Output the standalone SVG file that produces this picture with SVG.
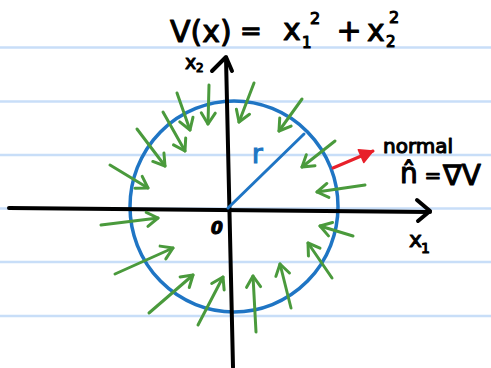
<svg xmlns="http://www.w3.org/2000/svg" width="491" height="368" viewBox="0 0 491 368">
<style>
.rule{stroke:#c8def8;stroke-width:2.5}
.ax{stroke:#000;stroke-width:4;fill:none;stroke-linecap:round;stroke-linejoin:round}
.g{stroke:#4a9a3c;stroke-width:3;fill:none;stroke-linecap:round}
.t{font-family:"DejaVu Sans",sans-serif;fill:#000;stroke:#000;stroke-width:1.1;stroke-linejoin:round}
</style>
<defs>
<marker id="ah" markerUnits="userSpaceOnUse" markerWidth="30" markerHeight="30" viewBox="-15 -15 30 30" refX="0" refY="0" orient="auto" overflow="visible">
<path d="M-11,-7 L0,0 L-11,7" fill="none" stroke="#4a9a3c" stroke-width="3" stroke-linecap="round" stroke-linejoin="round"/>
</marker>
<marker id="rh" markerUnits="userSpaceOnUse" markerWidth="30" markerHeight="30" viewBox="-15 -15 30 30" refX="0" refY="0" orient="auto" overflow="visible">
<path d="M-13,-7 L0,0 L-13,7 Z" fill="#e8202a" stroke="#e8202a" stroke-width="1.5" stroke-linejoin="round"/>
</marker>
</defs>
<rect width="491" height="368" fill="#fff"/>
<g id="ruled-lines">
<line class="rule" x1="0" y1="47.5" x2="491" y2="47.5"/>
<line class="rule" x1="0" y1="101.5" x2="491" y2="101.5"/>
<line class="rule" x1="0" y1="155" x2="491" y2="155"/>
<line class="rule" x1="0" y1="208.5" x2="491" y2="208.5"/>
<line class="rule" x1="0" y1="262" x2="491" y2="262"/>
<line class="rule" x1="0" y1="316" x2="491" y2="316"/>
</g>
<g id="title">
<text class="t" x="170" y="42" font-size="30">V(x)</text>
<text class="t" x="251" y="40" font-size="26" text-anchor="middle">=</text>
<text class="t" x="283" y="40" font-size="30">x</text>
<text class="t" x="302" y="48" font-size="15">1</text>
<text class="t" x="310" y="24" font-size="16">2</text>
<text class="t" x="349" y="41" font-size="30" text-anchor="middle">+</text>
<text class="t" x="367" y="41" font-size="30">x</text>
<text class="t" x="386" y="47" font-size="15">2</text>
<text class="t" x="389" y="23" font-size="16">2</text>
</g>
<g id="circle">
<ellipse cx="234" cy="206.5" rx="104" ry="105.5" fill="none" stroke="#1f75c4" stroke-width="3.5"/>
</g>
<g id="axes">
<polyline class="ax" points="9,208 430,212"/>
<polyline class="ax" points="417,200 430,211 418,221"/>
<polyline class="ax" points="226,58 233,367"/>
<polyline class="ax" points="212,71 226,57 232,71"/>
</g>
<g id="radius">
<line x1="228" y1="208" x2="304" y2="134" stroke="#1f75c4" stroke-width="3" stroke-linecap="round"/>
<text x="252" y="163" font-family="DejaVu Sans,sans-serif" font-size="26" fill="#1f75c4" stroke="#1f75c4" stroke-width="1.2">r</text>
</g>
<g id="labels">
<text class="t" x="185" y="69" font-size="19">x</text>
<text class="t" x="196" y="72" font-size="12">2</text>
<text class="t" x="409" y="247" font-size="22">x</text>
<text class="t" x="421" y="253" font-size="14">1</text>
<text class="t" x="211" y="234" font-size="17" font-weight="bold" font-style="italic">0</text>
</g>
<g id="normal-label">
<text class="t" x="383" y="153" font-size="20" stroke-width="0.8">normal</text>
<text class="t" x="400" y="183" font-size="28">n̂</text>
<text class="t" x="433" y="182" font-size="20" text-anchor="middle">=</text>
<text class="t" x="443" y="185" font-size="28">∇V</text>
</g>
<g id="connectors">
<line x1="333" y1="168" x2="373" y2="151" stroke="#e8202a" stroke-width="3" stroke-linecap="round" marker-end="url(#rh)"/>
<g class="g">
<line x1="209" y1="85" x2="208" y2="124" marker-end="url(#ah)"/>
<line x1="254" y1="83" x2="239" y2="122" marker-end="url(#ah)"/>
<line x1="302" y1="99" x2="279" y2="131" marker-end="url(#ah)"/>
<line x1="335" y1="141" x2="302" y2="167" marker-end="url(#ah)"/>
<line x1="365" y1="185" x2="317" y2="192" marker-end="url(#ah)"/>
<line x1="353" y1="236" x2="320" y2="226" marker-end="url(#ah)"/>
<line x1="332" y1="278" x2="308" y2="243" marker-end="url(#ah)"/>
<line x1="291" y1="308" x2="280" y2="264" marker-end="url(#ah)"/>
<line x1="256" y1="332" x2="253" y2="276" marker-end="url(#ah)"/>
<line x1="198" y1="325" x2="223" y2="277" marker-end="url(#ah)"/>
<line x1="149" y1="313" x2="193" y2="275" marker-end="url(#ah)"/>
<line x1="115" y1="274" x2="173" y2="248" marker-end="url(#ah)"/>
<line x1="101" y1="225" x2="158" y2="218" marker-end="url(#ah)"/>
<line x1="110" y1="165" x2="148" y2="188" marker-end="url(#ah)"/>
<line x1="137" y1="129" x2="165" y2="166" marker-end="url(#ah)"/>
<line x1="163" y1="112" x2="185" y2="151" marker-end="url(#ah)"/>
<line x1="177" y1="93" x2="190" y2="130" marker-end="url(#ah)"/>
</g>
</g>
</svg>
